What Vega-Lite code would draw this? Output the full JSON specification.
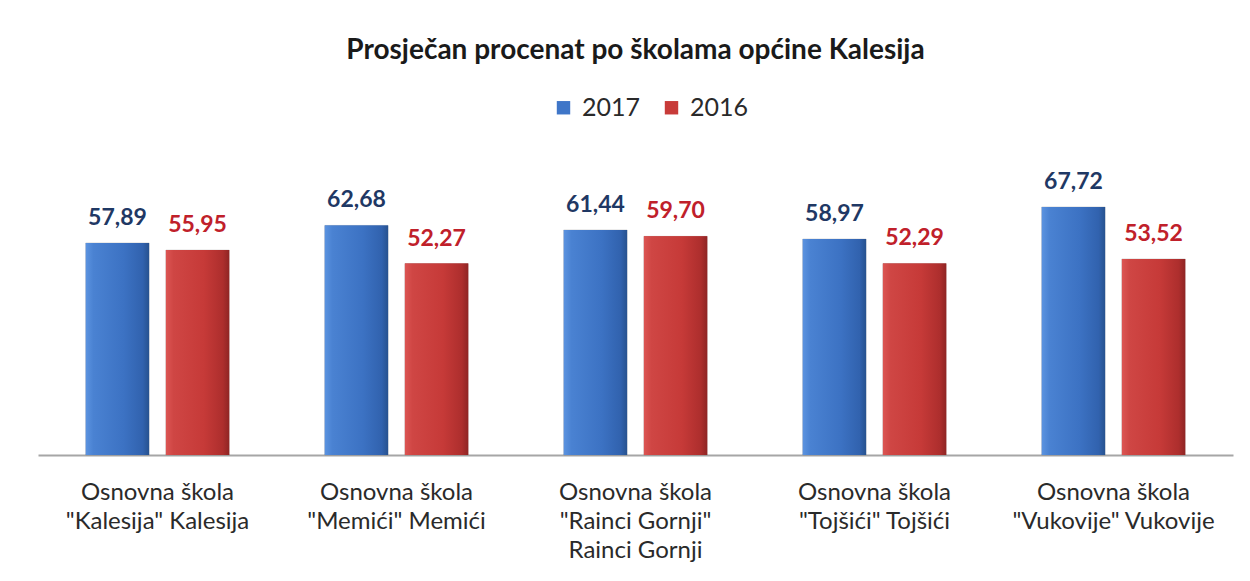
{
  "$schema": "https://vega.github.io/schema/vega-lite/v6.json",
  "autosize": "none",
  "width": 1195,
  "height": 293,
  "padding": {"left": 38, "top": 162, "right": 17, "bottom": 126},
  "background": "white",
  "config": {
    "view": {"stroke": null},
    "locale": {"number": {"decimal": ",", "thousands": ".", "grouping": [3], "currency": ["", ""]}},
    "font": "Lato"
  },
  "title": {
    "text": "Prosječan procenat po školama općine Kalesija",
    "font": "Lato",
    "fontSize": 28,
    "fontWeight": "bold",
    "color": "#1a1a1a",
    "anchor": "middle",
    "offset": 30
  },
  "data": {
    "values": [
      {"skola": "Osnovna škola|\"Kalesija\" Kalesija", "godina": "2017", "procenat": 57.89},
      {"skola": "Osnovna škola|\"Kalesija\" Kalesija", "godina": "2016", "procenat": 55.95},
      {"skola": "Osnovna škola|\"Memići\" Memići", "godina": "2017", "procenat": 62.68},
      {"skola": "Osnovna škola|\"Memići\" Memići", "godina": "2016", "procenat": 52.27},
      {"skola": "Osnovna škola|\"Rainci Gornji\"|Rainci Gornji", "godina": "2017", "procenat": 61.44},
      {"skola": "Osnovna škola|\"Rainci Gornji\"|Rainci Gornji", "godina": "2016", "procenat": 59.70},
      {"skola": "Osnovna škola|\"Tojšići\" Tojšići", "godina": "2017", "procenat": 58.97},
      {"skola": "Osnovna škola|\"Tojšići\" Tojšići", "godina": "2016", "procenat": 52.29},
      {"skola": "Osnovna škola|\"Vukovije\" Vukovije", "godina": "2017", "procenat": 67.72},
      {"skola": "Osnovna škola|\"Vukovije\" Vukovije", "godina": "2016", "procenat": 53.52}
    ]
  },
  "encoding": {
    "x": {
      "field": "skola", "type": "nominal", "sort": null, "title": null,
      "scale": {"paddingInner": 0.4, "paddingOuter": 0.2},
      "axis": {
        "labelExpr": "split(datum.value, '|')",
        "labelAngle": 0,
        "labelFont": "Lato",
        "labelFontSize": 24,
        "labelColor": "#2a2a2a",
        "labelLineHeight": 29,
        "labelPadding": 25,
        "labelBaseline": "top",
        "labelLimit": 300,
        "ticks": false,
        "domainColor": "#a6a6a6",
        "domainWidth": 2,
        "grid": false
      }
    },
    "xOffset": {"field": "godina", "type": "nominal", "sort": ["2017", "2016"], "scale": {"paddingInner": 0.21, "paddingOuter": 0}},
    "y": {"field": "procenat", "type": "quantitative", "scale": {"domain": [0, 80]}, "axis": null}
  },
  "layer": [
    {
      "mark": {"type": "bar", "stroke": "#6b6b6b", "strokeOpacity": 0.25, "strokeWidth": 1},
      "encoding": {
        "color": {
          "field": "godina", "type": "nominal", "sort": ["2017", "2016"],
          "scale": {"domain": ["2017", "2016"], "range": ["#3f76c8", "#c83b39"]},
          "legend": {
            "title": null,
            "orient": "none",
            "legendX": 513,
            "legendY": -67,
            "direction": "horizontal",
            "symbolType": "square",
            "symbolSize": 180,
            "symbolStrokeWidth": 0,
            "labelFont": "Lato",
            "labelFontSize": 25,
            "labelColor": "#2a2a2a",
            "columnPadding": 18,
            "labelOffset": 6
          }
        }
      }
    },
    {
      "transform": [{"filter": "datum.godina == '2017'"}],
      "mark": {"type": "bar", "color": {"gradient": "linear", "x1": 0, "x2": 1, "y1": 0, "y2": 0, "stops": [{"offset": 0, "color": "#5b93e0"}, {"offset": 0.12, "color": "#4a82d2"}, {"offset": 0.6, "color": "#3c72c3"}, {"offset": 0.9, "color": "#3162ae"}, {"offset": 1, "color": "#27528f"}]}}
    },
    {
      "transform": [{"filter": "datum.godina == '2016'"}],
      "mark": {"type": "bar", "color": {"gradient": "linear", "x1": 0, "x2": 1, "y1": 0, "y2": 0, "stops": [{"offset": 0, "color": "#dc5553"}, {"offset": 0.12, "color": "#cf4644"}, {"offset": 0.6, "color": "#c63a38"}, {"offset": 0.9, "color": "#ad2e2d"}, {"offset": 1, "color": "#8f2524"}]}}
    },
    {
      "mark": {"type": "text", "baseline": "alphabetic", "dy": -18, "font": "Lato", "fontSize": 23, "fontWeight": "bold"},
      "encoding": {
        "text": {"field": "procenat", "type": "quantitative", "format": ".2f"},
        "color": {"field": "godina", "type": "nominal", "scale": {"domain": ["2017", "2016"], "range": ["#1f3864", "#c0202a"]}, "legend": null}
      }
    }
  ],
  "resolve": {"scale": {"color": "independent"}}
}
